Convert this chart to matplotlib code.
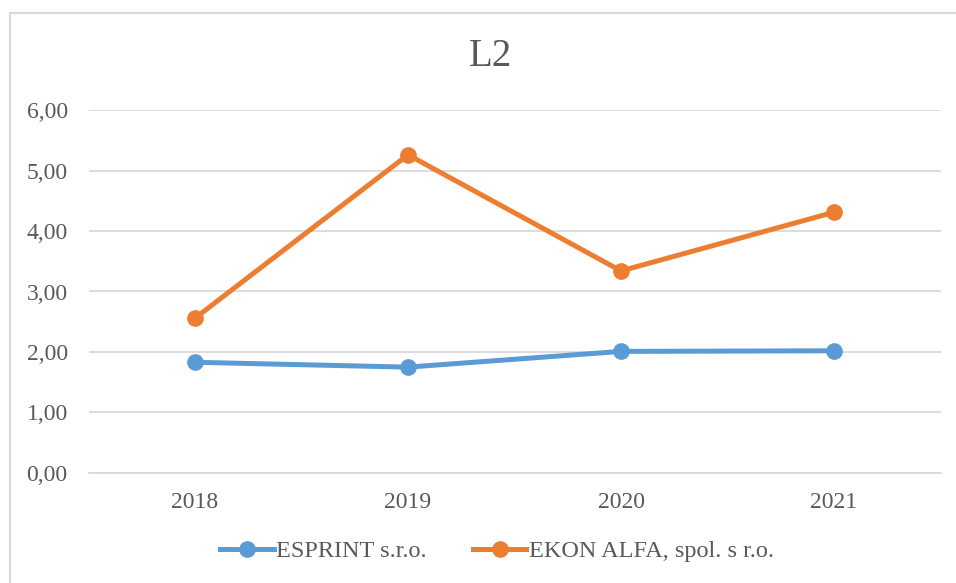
import matplotlib.pyplot as plt
import matplotlib.patches as patches
from matplotlib.ticker import FuncFormatter

years = ["2018", "2019", "2020", "2021"]
esprint = [1.83, 1.75, 2.01, 2.02]
ekon = [2.56, 5.26, 3.34, 4.31]
labels = ["ESPRINT s.r.o.", "EKON ALFA, spol. s r.o."]

plt.rcParams['font.family'] = ['Liberation Serif', 'DejaVu Serif']

fig = plt.figure(figsize=(9.56, 5.83), dpi=100)
# chart frame (cut at right/bottom in the original screenshot)
fig.patches.append(patches.Rectangle((10 / 956, -0.1), 1.2, (583 - 13) / 583 + 0.1,
                                     transform=fig.transFigure, fill=False,
                                     edgecolor='#D9D9D9', linewidth=1.5))

ax = fig.add_axes([0.0926, 0.1887, 0.8912, 0.6226])
x = range(len(years))
ax.plot(x, esprint, color='#5B9BD5', linewidth=3.6, marker='o', markersize=11, label=labels[0])
ax.plot(x, ekon, color='#ED7D31', linewidth=3.6, marker='o', markersize=11, label=labels[1])

ax.set_xlim(-0.5, len(years) - 0.5)
ax.set_ylim(0, 6)
ax.set_yticks([0, 1, 2, 3, 4, 5, 6])
ax.yaxis.set_major_formatter(FuncFormatter(lambda v, p: f"{v:.2f}".replace('.', ',')))
ax.set_xticks(list(x))
ax.set_xticklabels(years)
ax.tick_params(axis='both', length=0, labelsize=17, labelcolor='#595959')
ax.tick_params(axis='y', pad=15)
ax.tick_params(axis='x', pad=14)
ax.grid(axis='y', color='#D9D9D9', linewidth=1.3)
ax.set_axisbelow(True)
for s in ax.spines.values():
    s.set_visible(False)
ax.spines['bottom'].set_visible(True)
ax.spines['bottom'].set_color('#D9D9D9')
ax.spines['bottom'].set_linewidth(1.3)

fig.text(490 / 956, 1 - 57 / 583, "L2", ha='center', va='center', fontsize=28, color='#595959')

fig.legend(loc='center', bbox_to_anchor=(497 / 956, 1 - 551 / 583), ncol=2, frameon=False,
           fontsize=17.5, labelcolor='#595959', handlelength=2.2, columnspacing=1.9,
           handletextpad=0.1)

fig.savefig("out.png", dpi=100)
